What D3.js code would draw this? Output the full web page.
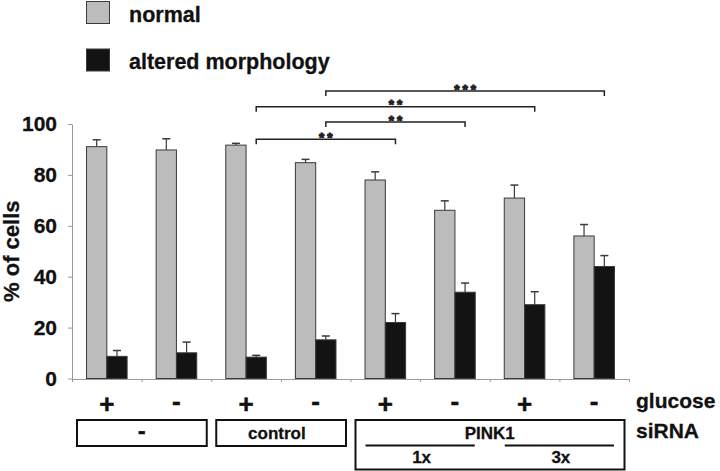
<!DOCTYPE html>
<html>
<head>
<meta charset="utf-8">
<script src="https://cdn.jsdelivr.net/npm/d3@7/dist/d3.min.js"></script>
<style>
  html, body { margin: 0; padding: 0; background: #fff; }
  svg { display: block; font-family: "Liberation Sans", Arial, Helvetica, sans-serif; font-weight: bold; }
</style>
</head>
<body>
<svg id="chart" width="720" height="471"></svg>
<script>
// ---- data ----
const categories = ["1", "2", "3", "4", "5", "6", "7", "8"];
const glucose = ["+", "-", "+", "-", "+", "-", "+", "-"];
const seriesNames = ["normal", "altered morphology"];
const normalValues = [91.1, 89.8, 91.7, 84.8, 78.0, 66.1, 70.9, 56.0];
const normalErrors = [2.7, 4.4, 0.7, 1.3, 3.2, 3.7, 5.1, 4.5];
const alteredValues = [8.7, 10.1, 8.4, 15.2, 22.0, 33.9, 29.0, 44.0];
const alteredErrors = [2.3, 4.2, 0.7, 1.5, 3.5, 3.6, 5.1, 4.3];
const yTicks = [0, 20, 40, 60, 80, 100];
const sirnaGroups = [
  { label: "-", from: 0, to: 1 },
  { label: "control", from: 2, to: 3 },
  { label: "PINK1", from: 4, to: 7 }
];
const doseGroups = [
  { label: "1x", from: 4, to: 5 },
  { label: "3x", from: 6, to: 7 }
];
// significance brackets: from/to category (altered bar), level in y-units
const sigBrackets = [
  { from: 3, to: 7, level: 113, label: "***" },
  { from: 2, to: 6, level: 106.8, label: "**" },
  { from: 3, to: 5, level: 100.8, label: "**" },
  { from: 2, to: 4, level: 94, label: "**" }
];

// ---- layout ----
const svg = d3.select("#chart");
const plotLeft = 72, plotRight = 629, plotTop = 124, plotBottom = 378.5;
const colors = { normal: "#bcbcbc", altered: "#131313" };
const strokeCol = "#3a3a3a";

const x0 = d3.scaleBand().domain(categories).range([plotLeft, plotRight])
  .paddingInner(0.417).paddingOuter(0.2085);
const x1 = d3.scaleBand().domain(seriesNames).range([0, x0.bandwidth()]).padding(0);
const y = d3.scaleLinear().domain([0, 100]).range([plotBottom, plotTop]);
const step = x0.step();
const catStart = i => plotLeft + i * step;
const catCenter = i => catStart(i) + step / 2;

// ---- y axis ----
const yAxis = d3.axisLeft(y).tickValues(yTicks).tickSize(4).tickSizeOuter(0).tickPadding(11);
const gy = svg.append("g").attr("transform", `translate(${plotLeft},0)`).call(yAxis);
gy.select(".domain").attr("stroke", "#9a9a9a");
gy.selectAll(".tick line").attr("stroke", "#9a9a9a");
gy.selectAll(".tick text").attr("fill", "#111").style("font-size", "21px")
  .style("font-weight", "bold").style("font-family", "'Liberation Sans', Arial, sans-serif")
  .attr("stroke", "#111").attr("stroke-width", 0.3);

svg.append("text")
  .attr("transform", `translate(19,${(plotTop + plotBottom) / 2}) rotate(-90)`)
  .attr("text-anchor", "middle").attr("fill", "#111").style("font-size", "22px")
  .attr("stroke", "#111").attr("stroke-width", 0.3)
  .text("% of cells");

// ---- x axis (line with boundary ticks) ----
const xb = d3.scaleLinear().domain([0, categories.length]).range([plotLeft, plotRight]);
const xAxis = d3.axisBottom(xb).ticks(categories.length).tickSize(3).tickSizeOuter(0).tickFormat("");
const gx = svg.append("g").attr("transform", `translate(0,${plotBottom + 0.5})`).call(xAxis);
gx.select(".domain").attr("stroke", "#9a9a9a");
gx.selectAll(".tick line").attr("stroke", "#9a9a9a");

// ---- bars ----
const rows = categories.map((c, i) => ({
  cat: c,
  vals: [
    { key: "normal", v: normalValues[i], e: normalErrors[i], fill: colors.normal },
    { key: "altered morphology", v: alteredValues[i], e: alteredErrors[i], fill: colors.altered }
  ]
}));

const groups = svg.append("g").selectAll("g").data(rows).join("g")
  .attr("transform", d => `translate(${x0(d.cat)},0)`);

// error bars (drawn first so bars cover their lower ends)
groups.selectAll("g.err").data(d => d.vals).join("g").attr("class", "err")
  .each(function (d) {
    const g = d3.select(this);
    const cx = x1(d.key) + x1.bandwidth() / 2;
    g.append("line").attr("x1", cx).attr("x2", cx).attr("y1", y(d.v)).attr("y2", y(d.v + d.e))
      .attr("stroke", strokeCol).attr("stroke-width", 1.2);
    g.append("line").attr("x1", cx - 4).attr("x2", cx + 4).attr("y1", y(d.v + d.e)).attr("y2", y(d.v + d.e))
      .attr("stroke", strokeCol).attr("stroke-width", 1.5);
  });

groups.selectAll("rect").data(d => d.vals).join("rect")
  .attr("x", d => x1(d.key))
  .attr("y", d => y(d.v))
  .attr("width", x1.bandwidth())
  .attr("height", d => y(0) - y(d.v))
  .attr("fill", d => d.fill)
  .attr("stroke", strokeCol).attr("stroke-width", 1);

// ---- significance brackets ----
const alteredCenter = i => x0(categories[i]) + x1("altered morphology") + x1.bandwidth() / 2;
const sig = svg.append("g").selectAll("g").data(sigBrackets).join("g");
sig.append("path")
  .attr("d", d => {
    const a = alteredCenter(d.from), b = alteredCenter(d.to), ly = y(d.level);
    return `M${a},${ly + 5}V${ly}H${b}V${ly + 5}`;
  })
  .attr("fill", "none").attr("stroke", "#222").attr("stroke-width", 1.5);
sig.append("text")
  .attr("x", d => (alteredCenter(d.from) + alteredCenter(d.to)) / 2)
  .attr("dx", 1.5)
  .attr("y", d => y(d.level) + 2.8)
  .attr("text-anchor", "middle").attr("fill", "#222")
  .attr("stroke", "#222").attr("stroke-width", 1)
  .style("font-size", "13.5px").style("letter-spacing", "3px")
  .text(d => d.label);

// ---- legend ----
const legend = svg.append("g").selectAll("g").data(seriesNames).join("g")
  .attr("transform", (d, i) => `translate(86,${1 + i * 47.5})`);
legend.append("rect").attr("x", 0.5).attr("y", 0.5).attr("width", 23).attr("height", 22)
  .attr("fill", (d, i) => i === 0 ? colors.normal : colors.altered)
  .attr("stroke", strokeCol).attr("stroke-width", 1);
legend.append("text").attr("x", 43).attr("y", 20.5).attr("fill", "#111")
  .attr("stroke", "#111").attr("stroke-width", 0.3)
  .style("font-size", "21.5px").text(d => d);

// ---- glucose row ----
svg.append("g").selectAll("text").data(glucose).join("text")
  .attr("x", (d, i) => catCenter(i)).attr("y", d => d === "+" ? 413 : 410)
  .attr("text-anchor", "middle").attr("fill", "#111")
  .attr("stroke", "#111").attr("stroke-width", 0.5)
  .style("font-size", "26px").text(d => d);
svg.append("text").attr("x", 636).attr("y", 408).attr("fill", "#111")
  .attr("stroke", "#111").attr("stroke-width", 0.3)
  .style("font-size", "21px").text("glucose");
svg.append("text").attr("x", 636).attr("y", 438).attr("fill", "#111")
  .attr("stroke", "#111").attr("stroke-width", 0.3)
  .style("font-size", "21px").text("siRNA");

// ---- siRNA boxes ----
const boxes = svg.append("g").selectAll("g").data(sirnaGroups).join("g");
boxes.append("rect")
  .attr("x", d => catStart(d.from) + 5)
  .attr("y", 420)
  .attr("width", d => catStart(d.to + 1) - 4.5 - (catStart(d.from) + 5))
  .attr("height", d => d.to - d.from > 1 ? 49.5 : 26)
  .attr("fill", "none").attr("stroke", "#111").attr("stroke-width", 2);
boxes.append("text")
  .attr("x", d => (catStart(d.from) + catStart(d.to + 1)) / 2 + (d.label === "control" ? -4 : 0))
  .attr("y", 439).attr("text-anchor", "middle").attr("fill", "#111")
  .attr("stroke", "#111").attr("stroke-width", 0.3)
  .style("font-size", d => d.label === "-" ? "24px" : "17px")
  .text(d => d.label);

const doses = svg.append("g").selectAll("g").data(doseGroups).join("g");
doses.append("line")
  .attr("x1", d => catStart(d.from) + 15).attr("x2", d => catStart(d.to + 1) - 15)
  .attr("y1", 445.5).attr("y2", 445.5)
  .attr("stroke", "#111").attr("stroke-width", 2);
doses.append("text")
  .attr("x", d => (catStart(d.from) + catStart(d.to + 1)) / 2 + 1.5)
  .attr("y", 463).attr("text-anchor", "middle").attr("fill", "#111")
  .attr("stroke", "#111").attr("stroke-width", 0.3)
  .style("font-size", "17px").text(d => d.label);
</script>
</body>
</html>
